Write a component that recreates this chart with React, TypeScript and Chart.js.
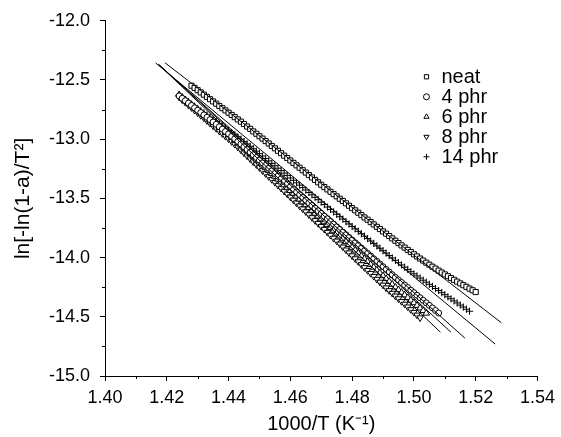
import React, { useEffect, useRef } from 'react';
import { Chart, registerables } from 'chart.js';
import { drawPoint } from 'chart.js/helpers';

Chart.register(...registerables);

// 1000/T grid (K^-1)
const invT = [
  1.424, 1.425, 1.426, 1.427, 1.428, 1.429, 1.430, 1.431, 1.432, 1.433,
  1.434, 1.435, 1.436, 1.437, 1.438, 1.439, 1.440, 1.441, 1.442, 1.443,
  1.444, 1.445, 1.446, 1.447, 1.448, 1.449, 1.450, 1.451, 1.452, 1.453,
  1.454, 1.455, 1.456, 1.457, 1.458, 1.459, 1.460, 1.461, 1.462, 1.463,
  1.464, 1.465, 1.466, 1.467, 1.468, 1.469, 1.470, 1.471, 1.472, 1.473,
  1.474, 1.475, 1.476, 1.477, 1.478, 1.479, 1.480, 1.481, 1.482, 1.483,
  1.484, 1.485, 1.486, 1.487, 1.488, 1.489, 1.490, 1.491, 1.492, 1.493,
  1.494, 1.495, 1.496, 1.497, 1.498, 1.499, 1.500, 1.501, 1.502, 1.503,
  1.504, 1.505, 1.506, 1.507, 1.508, 1.509, 1.510, 1.511, 1.512, 1.513,
  1.514, 1.515, 1.516, 1.517, 1.518, 1.519, 1.520,
];

// neat starts at 1.428
const neat = [
  -12.548, -12.567, -12.586, -12.605, -12.624, -12.643, -12.662, -12.681, -12.700, -12.719,
  -12.738, -12.757, -12.776, -12.795, -12.814, -12.833, -12.852, -12.872, -12.893, -12.913,
  -12.934, -12.954, -12.975, -12.995, -13.016, -13.036, -13.057, -13.077, -13.098, -13.118,
  -13.139, -13.159, -13.180, -13.200, -13.221, -13.241, -13.262, -13.282, -13.303, -13.323,
  -13.344, -13.364, -13.385, -13.404, -13.424, -13.444, -13.464, -13.483, -13.503, -13.522,
  -13.542, -13.562, -13.582, -13.601, -13.621, -13.641, -13.661, -13.680, -13.700, -13.720,
  -13.740, -13.759, -13.779, -13.798, -13.818, -13.838, -13.858, -13.877, -13.897, -13.916,
  -13.935, -13.953, -13.972, -13.990, -14.008, -14.025, -14.043, -14.060, -14.077, -14.093,
  -14.110, -14.126, -14.142, -14.157, -14.173, -14.188, -14.203, -14.218, -14.233, -14.247,
  -14.262, -14.276, -14.291,
];

const phr4 = [
  -12.635, -12.655, -12.675, -12.695, -12.715, -12.735, -12.755, -12.775, -12.795, -12.815,
  -12.835, -12.855, -12.875, -12.895, -12.915, -12.935, -12.955, -12.976, -12.997, -13.019,
  -13.041, -13.064, -13.087, -13.110, -13.132, -13.155, -13.177, -13.200, -13.222, -13.245,
  -13.267, -13.290, -13.312, -13.335, -13.357, -13.380, -13.402, -13.425, -13.447, -13.470,
  -13.492, -13.515, -13.537, -13.560, -13.582, -13.605, -13.627, -13.650, -13.672, -13.695,
  -13.717, -13.740, -13.762, -13.785, -13.807, -13.830, -13.852, -13.875, -13.897, -13.920,
  -13.942, -13.965, -13.987, -14.010, -14.032, -14.055, -14.077, -14.100, -14.122, -14.145,
  -14.167, -14.189, -14.210, -14.232, -14.253, -14.275, -14.296, -14.318, -14.339, -14.361,
  -14.382, -14.404, -14.425, -14.447, -14.468,
];

const phr6 = [
  -12.625, -12.646, -12.667, -12.688, -12.709, -12.730, -12.751, -12.772, -12.793, -12.814,
  -12.835, -12.856, -12.877, -12.898, -12.919, -12.940, -12.961, -12.983, -13.005, -13.028,
  -13.051, -13.075, -13.098, -13.122, -13.146, -13.170, -13.194, -13.218, -13.242, -13.266,
  -13.290, -13.314, -13.338, -13.362, -13.386, -13.410, -13.434, -13.458, -13.482, -13.506,
  -13.530, -13.554, -13.578, -13.602, -13.626, -13.650, -13.674, -13.698, -13.722, -13.746,
  -13.770, -13.794, -13.818, -13.842, -13.866, -13.890, -13.914, -13.938, -13.962, -13.986,
  -14.010, -14.034, -14.058, -14.082, -14.106, -14.130, -14.154, -14.178, -14.202, -14.226,
  -14.250, -14.272, -14.294, -14.316, -14.338, -14.360, -14.382, -14.404, -14.426, -14.448,
  -14.470,
];

const phr8 = [
  -12.645, -12.667, -12.689, -12.711, -12.733, -12.755, -12.777, -12.799, -12.821, -12.843,
  -12.865, -12.887, -12.909, -12.931, -12.953, -12.975, -12.997, -13.020, -13.043, -13.067,
  -13.091, -13.116, -13.141, -13.166, -13.191, -13.215, -13.240, -13.265, -13.290, -13.315,
  -13.340, -13.364, -13.389, -13.414, -13.439, -13.463, -13.488, -13.513, -13.538, -13.563,
  -13.588, -13.612, -13.637, -13.662, -13.687, -13.711, -13.736, -13.761, -13.786, -13.811,
  -13.836, -13.860, -13.885, -13.910, -13.935, -13.959, -13.984, -14.009, -14.034, -14.059,
  -14.084, -14.108, -14.133, -14.158, -14.183, -14.207, -14.232, -14.255, -14.278, -14.301,
  -14.324, -14.347, -14.370, -14.393, -14.416, -14.439, -14.462, -14.485, -14.508,
];

const phr14 = [
  -12.630, -12.648, -12.667, -12.685, -12.704, -12.722, -12.741, -12.759, -12.778, -12.796,
  -12.815, -12.833, -12.852, -12.870, -12.889, -12.907, -12.926, -12.944, -12.963, -12.981,
  -13.000, -13.020, -13.040, -13.060, -13.081, -13.101, -13.122, -13.142, -13.163, -13.183,
  -13.204, -13.224, -13.245, -13.265, -13.286, -13.306, -13.327, -13.347, -13.368, -13.388,
  -13.409, -13.429, -13.450, -13.470, -13.491, -13.511, -13.532, -13.552, -13.573, -13.593,
  -13.614, -13.634, -13.655, -13.675, -13.696, -13.716, -13.737, -13.757, -13.778, -13.798,
  -13.819, -13.839, -13.860, -13.880, -13.901, -13.921, -13.942, -13.962, -13.983, -14.003,
  -14.023, -14.043, -14.062, -14.081, -14.100, -14.119, -14.137, -14.155, -14.173, -14.191,
  -14.208, -14.226, -14.243, -14.261, -14.278, -14.296, -14.313, -14.331, -14.348, -14.366,
  -14.383, -14.401, -14.418, -14.436, -14.453,
];

const seriesLabels = ['neat', '4 phr', '6 phr', '8 phr', '14 phr'];
const seriesValues = [neat, phr4, phr6, phr8, phr14];
const seriesStartIndex = [4, 0, 0, 0, 0]; // index into invT of each series' first point
const pointStyles = ['rect', 'circle', 'triangle', 'triangle', 'cross'];
const pointRotations = [0, 0, 0, 180, 0];
const pointRadii = [3.6, 3, 3.8, 3.8, 3.6];

// linear fits: start / end points, same order as series
const fitStartX = [1.4194, 1.4174, 1.4174, 1.4174, 1.4164];
const fitStartY = [-12.354, -12.37, -12.37, -12.37, -12.356];
const fitEndX = [1.5283, 1.5165, 1.512, 1.5086, 1.5263];
const fitEndY = [-14.55, -14.68, -14.63, -14.63, -14.73];

const xTickMin = 1.4;
const xTickMax = 1.54;
const xMajorStep = 0.02;
const yTickMin = -15;
const yTickMax = -12;
const yMajorStep = 0.5;

const FONT = '"Liberation Sans", Arial, Helvetica, sans-serif';

const minorTicks = {
  id: 'minorTicks',
  afterDraw(chart: any) {
    const { ctx, scales } = chart;
    const xs = scales.x;
    const ys = scales.y;
    ctx.save();
    ctx.strokeStyle = '#000';
    ctx.lineWidth = 1;
    ctx.beginPath();
    for (let k = 0; k < 7; k++) {
      const v = xTickMin + xMajorStep / 2 + k * xMajorStep;
      const px = Math.round(xs.getPixelForValue(v)) + 0.5;
      ctx.moveTo(px, ys.bottom);
      ctx.lineTo(px, ys.bottom + 3);
    }
    for (let k = 0; k < 6; k++) {
      const v = yTickMin + yMajorStep / 2 + k * yMajorStep;
      const py = Math.round(ys.getPixelForValue(v)) + 0.5;
      ctx.moveTo(xs.left - 3, py);
      ctx.lineTo(xs.left, py);
    }
    ctx.stroke();
    ctx.restore();
  },
};

const inLegend = {
  id: 'inLegend',
  afterDatasetsDraw(chart: any) {
    const { ctx, chartArea } = chart;
    const x0 = chartArea.right - 111;
    const y0 = chartArea.top + 56;
    ctx.save();
    seriesLabels.forEach((lab, i) => {
      const y = y0 + i * 20;
      ctx.strokeStyle = '#000';
      ctx.fillStyle = '#fff';
      ctx.lineWidth = 1;
      drawPoint(ctx, { pointStyle: pointStyles[i], rotation: pointRotations[i], radius: 3, borderWidth: 1 } as any, x0, y);
      ctx.fillStyle = '#000';
      ctx.font = `20px ${FONT}`;
      ctx.textBaseline = 'middle';
      ctx.textAlign = 'left';
      ctx.fillText(lab, x0 + 15, y + 1);
    });
    ctx.restore();
  },
};

export default function App() {
  const ref = useRef<HTMLCanvasElement>(null);
  useEffect(() => {
    if (!ref.current) return;
    const lineSets = fitStartX.map((sx, i) => ({
      label: '',
      data: [
        { x: sx, y: fitStartY[i] },
        { x: fitEndX[i], y: fitEndY[i] },
      ],
      showLine: true,
      borderColor: '#000',
      borderWidth: 1,
      pointRadius: 0,
      fill: false,
    }));
    const pointSets = seriesValues.map((ys, i) => ({
      label: seriesLabels[i],
      data: ys.map((y, j) => ({ x: invT[seriesStartIndex[i] + j], y })),
      showLine: false,
      borderColor: '#000',
      backgroundColor: '#fff',
      borderWidth: 1,
      pointStyle: pointStyles[i],
      rotation: pointRotations[i],
      pointRadius: pointRadii[i],
    }));
    const chart = new Chart(ref.current, {
      type: 'scatter',
      data: { datasets: [...lineSets, ...pointSets] as any },
      plugins: [minorTicks, inLegend],
      options: {
        animation: false,
        responsive: false,
        layout: { padding: { left: 0, top: 20, right: 22, bottom: 0 } },
        plugins: { legend: { display: false }, tooltip: { enabled: false } },
        scales: {
          x: {
            type: 'linear',
            min: xTickMin,
            max: xTickMax,
            afterFit: (s: any) => { s.height = 61; },
            border: { display: true, color: '#000', width: 1 },
            grid: { display: true, drawOnChartArea: false, drawTicks: true, tickLength: 5, color: '#000' },
            ticks: {
              stepSize: xMajorStep,
              color: '#000',
              padding: 6,
              maxRotation: 0,
              font: { family: FONT, size: 18 },
              callback: (v: any) => Number(v).toFixed(2),
            },
            title: {
              display: true,
              text: '1000/T (K⁻¹)',
              color: '#000',
              font: { family: FONT, size: 20 },
              padding: { top: 0, bottom: 1 },
            },
          },
          y: {
            type: 'linear',
            min: yTickMin,
            max: yTickMax,
            afterFit: (s: any) => { s.width = 105; },
            border: { display: true, color: '#000', width: 1 },
            grid: { display: true, drawOnChartArea: false, drawTicks: true, tickLength: 5, color: '#000' },
            ticks: {
              stepSize: yMajorStep,
              color: '#000',
              padding: 10,
              font: { family: FONT, size: 18 },
              callback: (v: any) => Number(v).toFixed(1),
            },
            title: {
              display: true,
              text: 'ln[-ln(1-a)/T²]',
              color: '#000',
              font: { family: FONT, size: 21 },
              padding: { top: 11, bottom: 0 },
            },
          },
        },
      },
    });
    return () => chart.destroy();
  }, []);
  return (
    <div style={{ position: 'absolute', left: 0, top: 0, width: 561, height: 437, background: '#fff' }}>
      <canvas ref={ref} width={561} height={437} />
    </div>
  );
}
